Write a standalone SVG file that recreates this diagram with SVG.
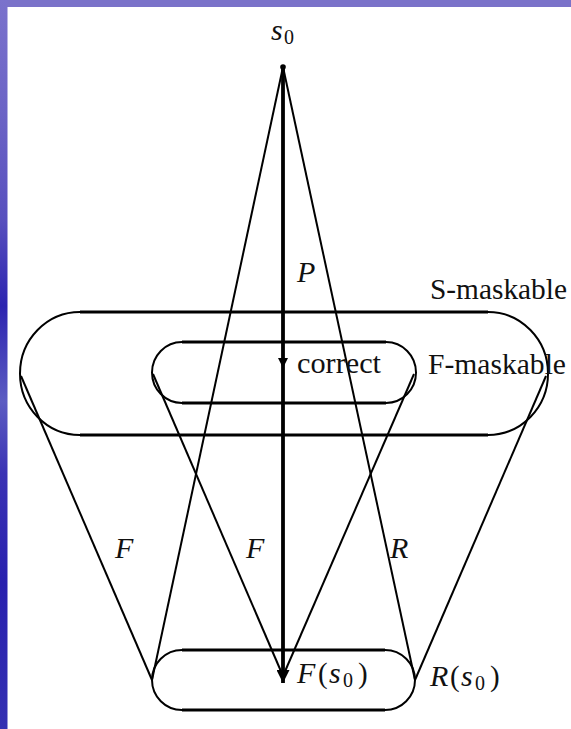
<svg xmlns="http://www.w3.org/2000/svg" width="571" height="729" viewBox="0 0 571 729">
<defs>
<linearGradient id="leftBg" x1="0" y1="0" x2="0" y2="1">
<stop offset="0" stop-color="#7a72cc"/>
<stop offset="0.15" stop-color="#6c64c6"/>
<stop offset="0.3" stop-color="#5850be"/>
<stop offset="0.42" stop-color="#2c24b0"/>
<stop offset="0.55" stop-color="#5c5cc2"/>
<stop offset="0.65" stop-color="#3a32b4"/>
<stop offset="0.8" stop-color="#2820ae"/>
<stop offset="1" stop-color="#3430b2"/>
</linearGradient>
<marker id="arrowBig" viewBox="0 0 10 10" refX="10" refY="5" markerUnits="userSpaceOnUse" markerWidth="20" markerHeight="13" orient="auto">
<path d="M0,0 L10,5 L0,10 z" fill="#000"/>
</marker>
<marker id="arrowSmall" viewBox="0 0 10 10" refX="10" refY="5" markerUnits="userSpaceOnUse" markerWidth="11" markerHeight="10" orient="auto">
<path d="M0,0 L10,5 L0,10 z" fill="#000"/>
</marker>
</defs>
<style>
.oval{fill:none;stroke:#000;stroke-width:2}
.flat{stroke:#000;stroke-width:3}
.thin{stroke:#000;stroke-width:2;fill:none}
.thick{stroke:#000;stroke-width:3.8;fill:none}
.rm{font-family:"Liberation Serif","Times New Roman",serif;font-size:29px;fill:#111}
.it{font-family:"Liberation Serif","Times New Roman",serif;font-size:30px;font-style:italic;fill:#111}
.sub{font-family:"Liberation Serif","Times New Roman",serif;font-size:20px;fill:#111}
</style>
<rect x="0" y="0" width="571" height="729" fill="#ffffff"/>
<rect x="0" y="0" width="571" height="7" fill="#7a72c9"/>
<rect x="0" y="0" width="7.5" height="729" fill="url(#leftBg)"/>

<g id="connectors">
<line class="thin" x1="283" y1="67" x2="152" y2="680"/>
<line class="thin" x1="283" y1="67" x2="415" y2="680"/>
<line class="thin" x1="21" y1="376" x2="152" y2="680"/>
<line class="thin" x1="546" y1="376" x2="415" y2="680"/>
<line class="thin" x1="153" y1="374" x2="283" y2="676"/>
<line class="thin" x1="414" y1="374" x2="283" y2="676"/>
<line class="thick" x1="283" y1="67" x2="283" y2="368" marker-end="url(#arrowSmall)"/>
<line class="thick" x1="283" y1="368" x2="283" y2="683" marker-end="url(#arrowBig)"/>
<text class="it" x="297" y="282">P</text>
<text class="it" x="115" y="558">F</text>
<text class="it" x="246" y="558">F</text>
<text class="it" x="390" y="558">R</text>
</g>

<g id="s0">
<circle cx="283" cy="67" r="2.8" fill="#000"/>
<text class="it" x="271" y="40">s</text>
<text class="sub" x="284" y="44">0</text>
</g>

<g id="s-maskable">
<rect class="oval" x="20" y="312" width="528" height="123" rx="60" ry="61.5"/>
<line class="flat" x1="80" y1="312" x2="488" y2="312"/>
<line class="flat" x1="80" y1="435" x2="488" y2="435"/>
<text class="rm" x="430" y="299" textLength="137" lengthAdjust="spacingAndGlyphs">S-maskable</text>
</g>

<g id="f-maskable">
<rect class="oval" x="152" y="342" width="264" height="61" rx="30" ry="30.5"/>
<line class="flat" x1="182" y1="342" x2="386" y2="342"/>
<line class="flat" x1="182" y1="403" x2="386" y2="403"/>
<text class="rm" x="428" y="374" textLength="138" lengthAdjust="spacingAndGlyphs">F-maskable</text>
</g>

<g id="correct">
<text class="rm" x="297" y="373" textLength="84" lengthAdjust="spacingAndGlyphs">correct</text>
</g>

<g id="result">
<rect class="oval" x="152" y="650" width="263" height="60" rx="30" ry="30"/>
<line class="flat" x1="182" y1="650" x2="385" y2="650"/>
<line class="flat" x1="182" y1="710" x2="385" y2="710"/>
<text class="it" x="297" y="683">F</text>
<text class="rm" x="318" y="683">(</text>
<text class="it" x="329" y="683">s</text>
<text class="sub" x="343" y="687">0</text>
<text class="rm" x="358" y="683">)</text>
<text class="it" x="430" y="686">R</text>
<text class="rm" x="450" y="686">(</text>
<text class="it" x="461" y="686">s</text>
<text class="sub" x="475" y="690">0</text>
<text class="rm" x="490" y="686">)</text>
</g>
</svg>
